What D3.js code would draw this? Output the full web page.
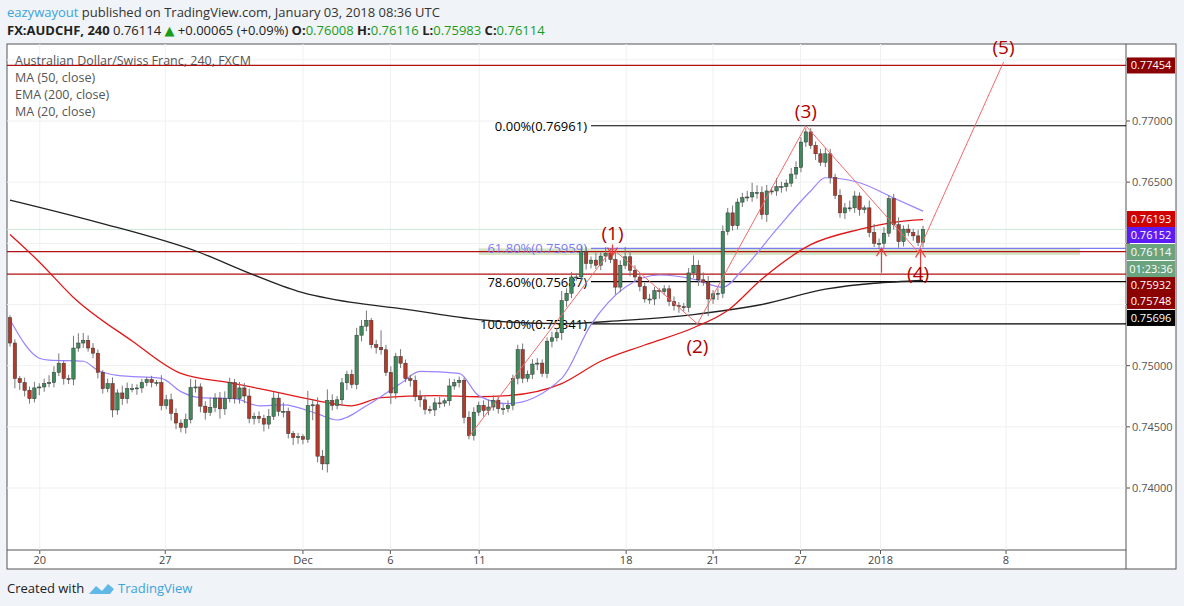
<!DOCTYPE html>
<html><head><meta charset="utf-8">
<script src="https://cdn.jsdelivr.net/npm/d3@7.9.0/dist/d3.min.js"></script>
<style>
body{margin:0;background:#f0f3f7;font-family:"Open Sans","DejaVu Sans",sans-serif;}
svg{display:block}
</style></head><body>
<svg id="chart" width="1184" height="606"></svg>
<script>
// 4h candles, closes (open = previous close)
const firstOpen = 0.75392;
const closes = [
0.75185,0.74895,0.74862,0.74799,0.74730,0.74818,0.74826,0.74854,0.74862,0.74945,
0.75020,0.74895,0.74890,0.75144,0.75185,0.75207,0.75144,0.75102,0.74945,0.74812,
0.74854,0.74638,0.74777,0.74730,0.74812,0.74812,0.74818,0.74862,0.74887,0.74862,
0.74862,0.74674,0.74721,0.74611,0.74531,0.74495,0.74558,0.74821,0.74826,0.74669,
0.74619,0.74660,0.74735,0.74647,0.74730,0.74862,0.74730,0.74818,0.74752,0.74569,
0.74586,0.74569,0.74522,0.74586,0.74735,0.74627,0.74627,0.74445,0.74412,0.74420,
0.74398,0.74674,0.74680,0.74260,0.74197,0.74716,0.74674,0.74721,0.74860,0.74928,
0.74846,0.75249,0.75323,0.75370,0.75171,0.75149,0.75130,0.74945,0.74777,0.75075,
0.75020,0.74895,0.74879,0.74749,0.74721,0.74641,0.74638,0.74696,0.74694,0.74713,
0.74834,0.74862,0.74881,0.74578,0.74428,0.74620,0.74676,0.74634,0.74662,0.74717,
0.74648,0.74648,0.74676,0.74897,0.75131,0.74897,0.74930,0.75013,0.75021,0.74938,
0.75200,0.75228,0.75269,0.75531,0.75592,0.75725,0.75725,0.75932,0.75835,0.75863,
0.75821,0.75896,0.75918,0.75868,0.75642,0.75821,0.75890,0.75780,0.75725,0.75647,
0.75545,0.75545,0.75614,0.75606,0.75628,0.75526,0.75490,0.75482,0.75476,0.75758,
0.75821,0.75702,0.75683,0.75545,0.75587,0.75592,0.76097,0.76249,0.76144,0.76337,
0.76373,0.76379,0.76415,0.76415,0.76235,0.76428,0.76428,0.76464,0.76464,0.76492,
0.76566,0.76621,0.76828,0.76911,0.76801,0.76732,0.76663,0.76732,0.76539,0.76392,
0.76249,0.76290,0.76290,0.76387,0.76276,0.76290,0.76089,0.76000,0.76000,0.76083,
0.76365,0.76152,0.76014,0.76116,0.76089,0.76061,0.76008,0.76114];
// wick lengths in pips above / below the body
const wickUp = [
2,3,2,4,3,5,3,4,6,5, 8,2,3,10,8,6,4,4,3,2, 4,5,3,6,5,4,3,3,2,3, 2,6,4,5,4,3,5,7,6,3,
4,8,4,5,6,4,3,5,4,6, 3,4,3,6,5,4,7,3,2,3, 2,12,4,6,5,9,5,3,4,3, 4,6,5,8,2,4,14,4,5,3,
6,3,3,4,5,3,3,4,5,2, 6,3,3,2,5,4,3,4,6,4, 3,4,4,3,4,5,3,4,4,3, 3,5,4,8,4,4,3,5,4,3,
6,3,5,4,6,4,8,5,4,3, 3,4,3,2,3,3,4,3,3,4, 8,4,6,5,3,4,5,4,6,3, 4,5,8,6,5,5,3,7,4,3,
5,5,4,3,3,3,4,5,4,3, 5,4,6,4,3,2,6,7,4,5, 3,4,6,3,4,3,5,3];
const wickDn = [
3,8,6,5,4,3,6,4,3,4, 3,5,4,5,3,4,3,4,5,4, 3,6,4,5,4,3,5,4,3,4, 3,4,3,6,5,4,5,3,4,5,
6,3,4,8,5,3,4,4,6,4, 5,4,6,4,3,4,5,4,6,5, 4,3,12,5,5,7,4,3,5,6, 3,4,5,4,3,5,4,3,9,5,
4,3,5,4,6,4,3,5,4,3, 4,3,4,5,3,4,3,5,4,3, 4,5,3,4,5,4,3,4,5,3, 4,5,3,6,5,4,3,4,5,4,
3,4,5,3,6,4,3,5,4,4, 3,4,5,6,3,4,4,5,3,4, 4,5,3,14,4,5,4,3,4,3, 4,3,4,5,4,6,3,4,5,4,
3,4,4,4,3,5,3,4,5,3, 4,5,3,4,5,3,4,3,5,4, 3,4,5,4,3,4,3,4];
// moving averages: [candle index, value]
const ma20 = [[0,0.75376],[6,0.75061],[8,0.75045],[15,0.75036],[18,0.74962],[22,0.74920],[31,0.74896],[35,0.74788],[39,0.74738],[46,0.74730],[51,0.74672],[56,0.74680],[63,0.74606],[67,0.74556],[73,0.74672],[80,0.74854],[84,0.74954],[92,0.74937],[96,0.74755],[102,0.74689],[113,0.74896],[119,0.75335],[126,0.75641],[133,0.75741],[140,0.75708],[146,0.75641],[150,0.75782],[157,0.76114],[164,0.76428],[167,0.76536],[174,0.76495],[181,0.76370],[187,0.76263]];
const ma50 = [[0,0.76072],[6,0.75848],[13,0.75558],[25,0.75202],[35,0.74937],[46,0.74854],[56,0.74771],[63,0.74713],[70,0.74672],[76,0.74738],[87,0.74755],[96,0.74746],[102,0.74755],[113,0.74854],[121,0.75036],[130,0.75169],[140,0.75310],[147,0.75451],[154,0.75708],[164,0.75989],[174,0.76114],[181,0.76172],[187,0.76193]];
const ema200 = [[0,0.76354],[18,0.76172],[39,0.75923],[49,0.75757],[59,0.75608],[70,0.75517],[80,0.75467],[96,0.75376],[113,0.75343],[125,0.75368],[140,0.75418],[154,0.75500],[167,0.75625],[187,0.75696]];
// Elliott wave points and labels
const waves = [[94,0.74420,''],[123.4,0.75959,'(1)'],[140.8,0.75341,'(2)'],[163,0.76961,'(3)'],[186,0.75929,'(4)'],[203.5,0.77482,'(5)']];
const fibLevels = [['0.00%',0.76961,'#000'],['61.80%',0.75959,'#7b7bf2'],['78.60%',0.75687,'#000'],['100.00%',0.75341,'#000']];
const redLevels = [0.77454,0.75932,0.75748];
const priceTicks = [0.740,0.745,0.750,0.755,0.760,0.765,0.770,0.775];
const dateTicks = [[6.1,'20'],[31.8,'27'],[60,'Dec'],[77.9,'6'],[96.1,'11'],[126.2,'18'],[144,'21'],[161.9,'27'],[178.3,'2018'],[204,'8']];
// price-axis tags: text, stacked position on the price scale, colour
const axisTags = [['0.77454',0.77454,'#8b0000'],['0.76193',0.76199,'#d00000'],['0.76152',0.76068,'#5b1cf5'],['0.76114',0.75929,'#6aa37e'],['01:23:36',0.75790,'#6aa37e'],['0.75932',0.75659,'#8b0000'],['0.75748',0.75529,'#8b0000'],['0.75696',0.75390,'#000']];

const svg = d3.select('#chart');
const L = 7, R = 1126, T = 44, B = 550;
const x = d3.scaleLinear().domain([0, 187]).range([10, 923]);
const y = d3.scaleLinear().domain([0.74, 0.77]).range([488, 121]);

// header
svg.append('text').attr('x', 7).attr('y', 17).attr('font-size', 13)
  .html('<tspan fill="#3ba3de">eazywayout</tspan><tspan fill="#333"> published on TradingView.com, January 03, 2018 08:36 UTC</tspan>');
svg.append('text').attr('x', 7).attr('y', 35).attr('font-size', 13).attr('fill', '#222')
  .html('<tspan font-weight="bold">FX:AUDCHF, 240</tspan> 0.76114 <tspan fill="#1a9c1a">▲</tspan> +0.00065 (+0.09%) <tspan font-weight="bold">O:</tspan><tspan fill="#1a9c1a">0.76008</tspan> <tspan font-weight="bold">H:</tspan><tspan fill="#1a9c1a">0.76116</tspan> <tspan font-weight="bold">L:</tspan><tspan fill="#1a9c1a">0.75983</tspan> <tspan font-weight="bold">C:</tspan><tspan fill="#1a9c1a">0.76114</tspan>');

// frame
svg.append('rect').attr('x', L).attr('y', T).attr('width', 1176 - L).attr('height', 569 - T)
  .attr('fill', '#fff').attr('stroke', '#555');
svg.append('line').attr('x1', R).attr('x2', R).attr('y1', T).attr('y2', 569).attr('stroke', '#555');
svg.append('line').attr('x1', L).attr('x2', R).attr('y1', B).attr('y2', B).attr('stroke', '#555');

const plot = svg.append('g');
plot.append('clipPath').attr('id', 'clip').append('rect').attr('x', L).attr('y', T).attr('width', R - L).attr('height', B - T);
const g = plot.append('g').attr('clip-path', 'url(#clip)');

// grid
g.selectAll('.hg').data(priceTicks).join('line')
  .attr('x1', L).attr('x2', R).attr('y1', d => y(d)).attr('y2', d => y(d)).attr('stroke', '#eef0f2');
g.selectAll('.vg').data(dateTicks).join('line')
  .attr('x1', d => x(d[0])).attr('x2', d => x(d[0])).attr('y1', T).attr('y2', B).attr('stroke', '#eef0f2');

// tick labels (those hidden under a price tag are left out)
const covered = d => axisTags.some(t => Math.abs(y(t[1]) - y(d)) < 13);
svg.selectAll('.pt').data(priceTicks.filter(d => !covered(d))).join('text')
  .attr('x', 1132).attr('y', d => y(d) + 4).attr('font-size', 11).attr('fill', '#555')
  .text(d => d.toFixed(5));
svg.selectAll('.ptk').data(priceTicks.filter(d => y(d) > T)).join('line')
  .attr('x1', R).attr('x2', R + 4).attr('y1', d => y(d)).attr('y2', d => y(d)).attr('stroke', '#555');
svg.selectAll('.dt').data(dateTicks).join('text')
  .attr('x', d => x(d[0])).attr('y', 564).attr('text-anchor', 'middle').attr('font-size', 11).attr('fill', '#444')
  .text(d => d[1]);
svg.selectAll('.dtk').data(dateTicks).join('line')
  .attr('x1', d => x(d[0])).attr('x2', d => x(d[0])).attr('y1', B).attr('y2', B + 4).attr('stroke', '#555');

// current price line and fib band
g.append('line').attr('x1', L).attr('x2', R).attr('y1', y(0.76114)).attr('y2', y(0.76114)).attr('stroke', '#cfe6d8');
g.append('rect').attr('x', x(96)).attr('width', 1080 - x(96)).attr('y', y(0.75959)).attr('height', y(0.75905) - y(0.75959))
  .attr('fill', '#c9dcb8').attr('opacity', 0.8);

// red horizontal levels
g.selectAll('.rl').data(redLevels).join('line')
  .attr('x1', L).attr('x2', R).attr('y1', d => y(d)).attr('y2', d => y(d)).attr('stroke', '#b01010').attr('stroke-width', 1.2);

// fib levels
g.selectAll('.fl').data(fibLevels).join('line')
  .attr('x1', 591).attr('x2', R).attr('y1', d => y(d[1])).attr('y2', d => y(d[1])).attr('stroke', d => d[2]).attr('stroke-width', 1.2);
g.selectAll('.ft').data(fibLevels).join('text')
  .attr('x', 587).attr('y', d => y(d[1]) + 5).attr('text-anchor', 'end').attr('font-size', 13).attr('fill', d => d[2])
  .text(d => `${d[0]}(${d[1].toFixed(5)})`);

// moving averages
const line = d3.line().x(d => x(d[0])).y(d => y(d[1])).curve(d3.curveMonotoneX);
g.append('path').attr('d', line(ema200)).attr('fill', 'none').attr('stroke', '#222').attr('stroke-width', 1.3);
g.append('path').attr('d', line(ma50)).attr('fill', 'none').attr('stroke', '#e01818').attr('stroke-width', 1.3);
g.append('path').attr('d', line(ma20)).attr('fill', 'none').attr('stroke', '#9b82ff').attr('stroke-width', 1.2);

// candles
const candles = closes.map((c, i) => {
  const o = i === 0 ? firstOpen : closes[i - 1];
  return { i, o, c, h: Math.max(o, c) + wickUp[i] / 10000, l: Math.min(o, c) - wickDn[i] / 10000 };
});
g.selectAll('.wk').data(candles).join('line')
  .attr('x1', d => x(d.i)).attr('x2', d => x(d.i)).attr('y1', d => y(d.h)).attr('y2', d => y(d.l)).attr('stroke', '#777');
g.selectAll('.bd').data(candles).join('rect')
  .attr('x', d => x(d.i) - 1.7).attr('width', 3.4)
  .attr('y', d => y(Math.max(d.o, d.c))).attr('height', d => Math.max(1, Math.abs(y(d.o) - y(d.c))))
  .attr('fill', d => d.c >= d.o ? '#3f8a5c' : '#b23a2a').attr('stroke', '#333').attr('stroke-width', 0.5);

// wave lines
g.append('path').attr('d', d3.line().x(d => x(d[0])).y(d => y(d[1]))(waves))
  .attr('fill', 'none').attr('stroke', '#f36a6a').attr('stroke-width', 1);
svg.selectAll('.wl').data(waves.filter(d => d[2])).join('text')
  .attr('x', d => x(d[0])).attr('y', d => d[2] === '(2)' ? y(d[1]) + 29 : d[2] === '(4)' ? y(d[1]) + 28 : y(d[1]) - 8)
  .attr('text-anchor', 'middle').attr('font-size', 19).attr('fill', '#b00000').text(d => d[2]);

// arrows
const arrows = [[123.4, 0.75900, 0.75990, 'down'], [178.5, 0.75760, 0.75960, 'up'], [186.5, 0.75700, 0.75950, 'up']];
arrows.forEach(a => {
  const ax = x(a[0]), y1 = y(a[1]), y2 = y(a[2]);
  const tip = a[3] === 'up' ? y2 : y1;
  const dir = a[3] === 'up' ? 1 : -1;
  g.append('path').attr('d', `M${ax},${y1}L${ax},${y2}M${ax - 5},${tip + dir * 8}L${ax},${tip}L${ax + 5},${tip + dir * 8}`)
    .attr('fill', 'none').attr('stroke', '#ee3a3a').attr('stroke-width', 1.2);
});

// legend
const leg = ['Australian Dollar/Swiss Franc, 240, FXCM', 'MA (50, close)', 'EMA (200, close)', 'MA (20, close)'];
svg.selectAll('.lg').data(leg).join('text')
  .attr('x', 15).attr('y', (d, i) => 65 + i * 17).attr('font-size', 12.5).attr('fill', '#555').text(d => d);

// axis tags
const tag = svg.selectAll('.tag').data(axisTags).join('g').attr('transform', d => `translate(1127,${y(d[1]) - 8})`);
tag.append('rect').attr('width', 48).attr('height', 16).attr('fill', d => d[2]);
tag.append('text').attr('x', 24).attr('y', 12).attr('text-anchor', 'middle').attr('font-size', 11).attr('fill', '#fff').text(d => d[0]);

// footer
svg.append('text').attr('x', 7).attr('y', 593).attr('font-size', 13).attr('fill', '#222').text('Created with');
svg.append('path').attr('d', 'M89,594 l7,-8 l6,5 l6,-7 l6,5 l-4,5 z').attr('fill', '#5fb8e6');
svg.append('text').attr('x', 118).attr('y', 593).attr('font-size', 13).attr('fill', '#3ba3de').text('TradingView');
</script></body></html>
